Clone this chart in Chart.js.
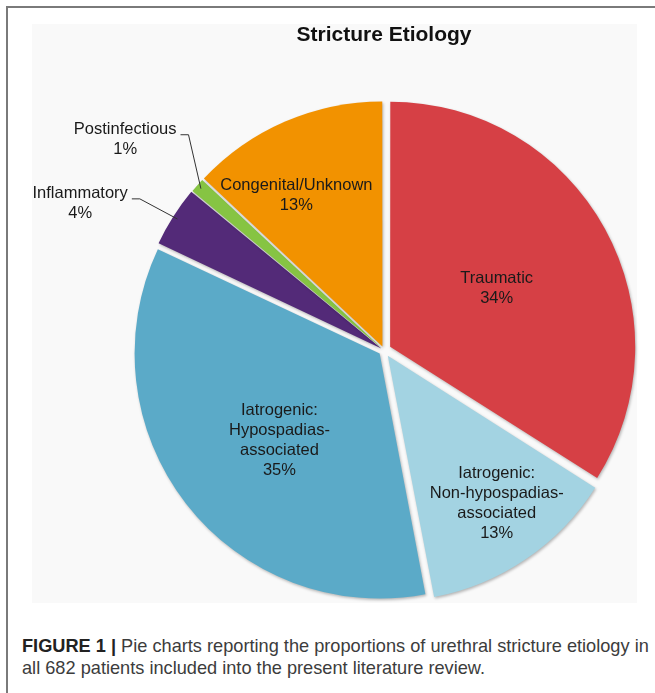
<!DOCTYPE html>
<html>
<head>
<meta charset="utf-8">
<script src="https://cdn.jsdelivr.net/npm/chart.js@4"></script>
<style>
  html, body { margin: 0; padding: 0; background: #fff; }
  body { width: 655px; height: 693px; position: relative; overflow: hidden; font-family: "Liberation Sans", Arial, sans-serif; }
  #frameTop { position: absolute; left: 6px; top: 6px; width: 649px; height: 2px; background: #7a7a7a; }
  #frameLeft { position: absolute; left: 6px; top: 6px; width: 2px; height: 687px; background: #7a7a7a; }
  #chart { position: absolute; left: 0; top: 0; }
  #caption { position: absolute; left: 22px; top: 635px; font-size: 18.2px; line-height: 22.3px; color: #3c3c3c; white-space: nowrap; }
  #caption b { color: #222; }
</style>
</head>
<body>
<div id="frameTop"></div>
<div id="frameLeft"></div>
<canvas id="chart" width="655" height="615"></canvas>
<div id="caption"><b>FIGURE 1 |</b> Pie charts reporting the proportions of urethral stricture etiology in<br>all 682 patients included into the present literature review.</div>
<script>
const categories = ["Traumatic", "Iatrogenic: Non-hypospadias-associated", "Iatrogenic: Hypospadias-associated", "Inflammatory", "Postinfectious", "Congenital/Unknown"];
const labelLines = [["Traumatic"], ["Iatrogenic:", "Non-hypospadias-", "associated"], ["Iatrogenic:", "Hypospadias-", "associated"], ["Inflammatory"], ["Postinfectious"], ["Congenital/Unknown"]];
const percentages = [34, 13, 35, 4, 1, 13];

const sliceColors = ["#d64045", "#a3d3e2", "#5baac8", "#532a78", "#86c443", "#f29200"];
// explode distance per slice (chart.js divides by 4 and pushes thin slices a bit more)
const sliceOffsets = [28, 27, 22, 12.6, 10.3, 15.7];
// label spot: [angle shift in degrees from slice middle, distance as share of radius]
const labelPlaces = [[0, 0.527], [-2.1, 0.78], [-3.1, 0.567], [-6.7, 1.382], [-2.3, 1.367], [-6.2, 0.727]];

const FONT = '"Liberation Sans", Arial, sans-serif';

const panelPlugin = {
  id: "panel",
  beforeDraw(chart) {
    const ctx = chart.ctx;
    ctx.save();
    ctx.fillStyle = "#f9f9f9";
    ctx.fillRect(32, 24, 605, 579);
    ctx.restore();
  }
};

const shadowPlugin = {
  id: "sliceShadow",
  beforeDatasetsDraw(chart) {
    const ctx = chart.ctx;
    ctx.save();
    ctx.shadowColor = "rgba(0,0,0,0.28)";
    ctx.shadowBlur = 3;
    ctx.shadowOffsetX = 1;
    ctx.shadowOffsetY = 1.5;
  },
  afterDatasetsDraw(chart) {
    chart.ctx.restore();
  }
};

const labelPlugin = {
  id: "sliceLabels",
  afterDraw(chart) {
    const ctx = chart.ctx;
    const meta = chart.getDatasetMeta(0);
    ctx.save();
    ctx.font = "16.5px " + FONT;
    ctx.fillStyle = "#1a1a1a";
    ctx.textAlign = "center";
    ctx.textBaseline = "middle";
    ctx.strokeStyle = "#333";
    ctx.lineWidth = 1;
    meta.data.forEach((arc, i) => {
      const p = arc.getProps(["x", "y", "startAngle", "endAngle", "outerRadius", "circumference"], true);
      const mid = (p.startAngle + p.endAngle) / 2;
      const off = sliceOffsets[i] / 4 * (2 - Math.sin(Math.min(Math.PI, p.circumference)));
      const cx = p.x + Math.cos(mid) * off;
      const cy = p.y + Math.sin(mid) * off;
      const [shift, dist] = labelPlaces[i];
      const a = mid + shift * Math.PI / 180;
      const tx = p.x + Math.cos(a) * dist * p.outerRadius;
      const ty = p.y + Math.sin(a) * dist * p.outerRadius;
      const lines = labelLines[i].concat(percentages[i] + "%");
      const lh = 20;
      lines.forEach((s, k) => ctx.fillText(s, tx, ty + (k - (lines.length - 1) / 2) * lh));
      if (dist > 1) {
        const w = Math.max(...lines.map(s => ctx.measureText(s).width));
        const ex = cx + Math.cos(mid) * p.outerRadius * 0.98;
        const ey = cy + Math.sin(mid) * p.outerRadius * 0.98;
        const lx = tx + w / 2 + 4, ly = ty - 5;
        ctx.beginPath();
        ctx.moveTo(lx, ly);
        ctx.lineTo(lx + 8, ly);
        ctx.lineTo(ex, ey);
        ctx.stroke();
      }
    });
    ctx.restore();
  }
};

new Chart(document.getElementById("chart"), {
  type: "pie",
  data: {
    labels: categories,
    datasets: [{
      data: percentages,
      backgroundColor: sliceColors,
      borderWidth: 0,
      offset: sliceOffsets,
      clip: false
    }]
  },
  options: {
    responsive: false,
    animation: false,
    devicePixelRatio: 1,
    radius: 244,
    layout: { padding: { left: 113, right: 0, top: 0, bottom: 0 } },
    plugins: {
      legend: { display: false },
      tooltip: { enabled: false },
      title: {
        display: true,
        text: "Stricture Etiology",
        color: "#111",
        font: { family: FONT, size: 21, weight: "bold" },
        padding: { top: 22.5, bottom: 37.5 }
      }
    }
  },
  plugins: [panelPlugin, shadowPlugin, labelPlugin]
});
</script>
</body>
</html>
